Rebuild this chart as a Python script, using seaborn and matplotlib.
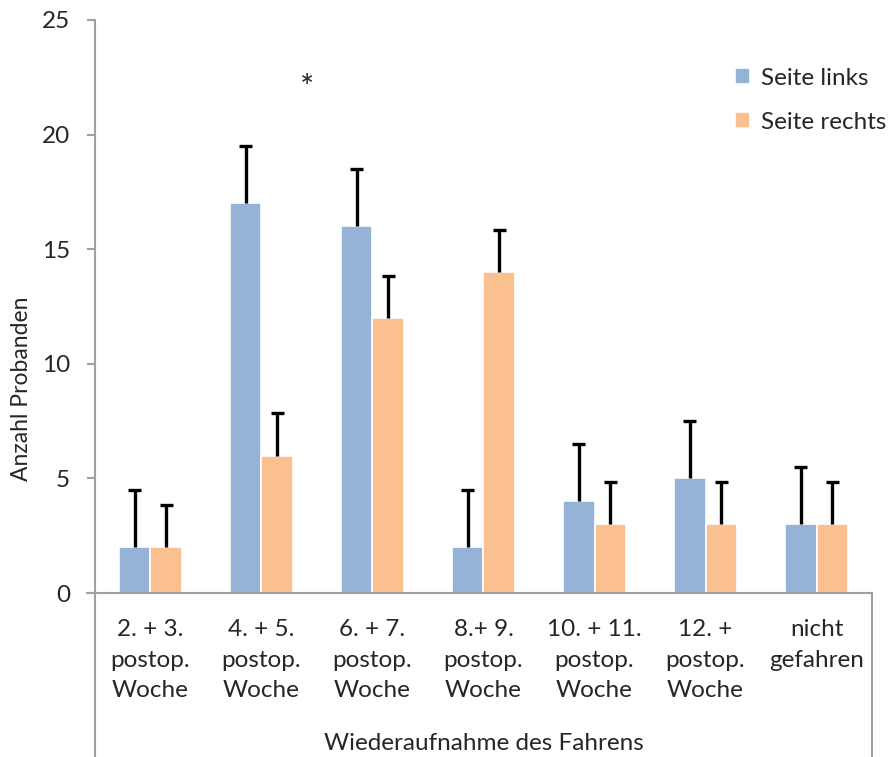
import matplotlib
matplotlib.use("Agg")
import matplotlib.pyplot as plt
import seaborn as sns
import pandas as pd

categories = ["2. + 3.\npostop.\nWoche", "4. + 5.\npostop.\nWoche", "6. + 7.\npostop.\nWoche",
              "8.+ 9.\npostop.\nWoche", "10. + 11.\npostop.\nWoche", "12. +\npostop.\nWoche",
              "nicht\ngefahren"]
series = ["Seite links", "Seite rechts"]
links = [2, 17, 16, 2, 4, 5, 3]
rechts = [2, 6, 12, 14, 3, 3, 3]
err_links = [2.5, 2.5, 2.5, 2.5, 2.5, 2.5, 2.5]
err_rechts = [1.85, 1.85, 1.85, 1.85, 1.85, 1.85, 1.85]
y_ticks = [0, 5, 10, 15, 20, 25]

sns.set_theme(style="white")
plt.rcParams["font.family"] = ["Lato", "DejaVu Sans"]

df = pd.DataFrame({
    "Kategorie": categories * 2,
    "Seite": [series[0]] * len(categories) + [series[1]] * len(categories),
    "Anzahl": links + rechts,
})

colors = ["#95B3D7", "#FAC090"]
axis_gray = "#A0A0A0"
fs = 17.5

fig = plt.figure(figsize=(8.9, 7.57), dpi=100)
ax = fig.add_axes([0.1067, 0.2166, 0.8731, 0.757])

sns.barplot(data=df, x="Kategorie", y="Anzahl", hue="Seite", palette=colors,
            order=categories, hue_order=series, width=0.57, errorbar=None,
            edgecolor="white", linewidth=1.2, saturation=1, ax=ax)

# upper-only error bars at the bar centres
cap = 0.06
for cont, errs in zip(ax.containers, [err_links, err_rechts]):
    for bar, e in zip(cont, errs):
        xc = bar.get_x() + bar.get_width() / 2
        h = bar.get_height()
        ax.vlines(xc, h, h + e, color="black", lw=2.4, zorder=5)
        ax.hlines(h + e, xc - cap, xc + cap, color="black", lw=2.4, zorder=5)

ax.set_xlim(-0.5, len(categories) - 0.5)
ax.set_ylim(0, 25)
ax.set_yticks(y_ticks)
ax.tick_params(axis="y", labelsize=fs, length=5.8, width=1.5, color=axis_gray,
               left=True, pad=12)
ax.tick_params(axis="x", labelsize=fs, length=0, pad=19)
for lab in ax.get_xticklabels():
    lab.set_linespacing(1.55)

for s in ["top", "right"]:
    ax.spines[s].set_visible(False)
for s in ["left", "bottom"]:
    ax.spines[s].set_color(axis_gray)
    ax.spines[s].set_linewidth(1.5)

# left axis line continues down past the category labels; right border of the label box
ax.plot([0, 0], [0, -0.2166 / 0.757], transform=ax.transAxes, color=axis_gray,
        lw=1.5, clip_on=False)
ax.plot([1, 1], [0, -0.2166 / 0.757], transform=ax.transAxes, color=axis_gray,
        lw=1.5, clip_on=False)
ax.plot([-8 / 777, 0], [0, 0], transform=ax.transAxes, color=axis_gray,
        lw=1.5, clip_on=False)

ax.set_xlabel("")
ax.set_ylabel("")
fig.text(0.5435, 1 - 743 / 757, "Wiederaufnahme des Fahrens", fontsize=fs,
         ha="center", va="center")
fig.text(0.024, 0.487, "Anzahl Probanden", rotation=90, fontsize=16.5,
         ha="center", va="center")

ax.text(1.41, 22.0, "*", fontsize=24, ha="center", va="center")

leg = ax.legend(frameon=False, fontsize=fs, loc="upper right",
                bbox_to_anchor=(1.047, 0.955), handlelength=0.65, handleheight=0.65,
                handletextpad=0.45, labelspacing=0.95)

fig.savefig("out.png", dpi=100)
